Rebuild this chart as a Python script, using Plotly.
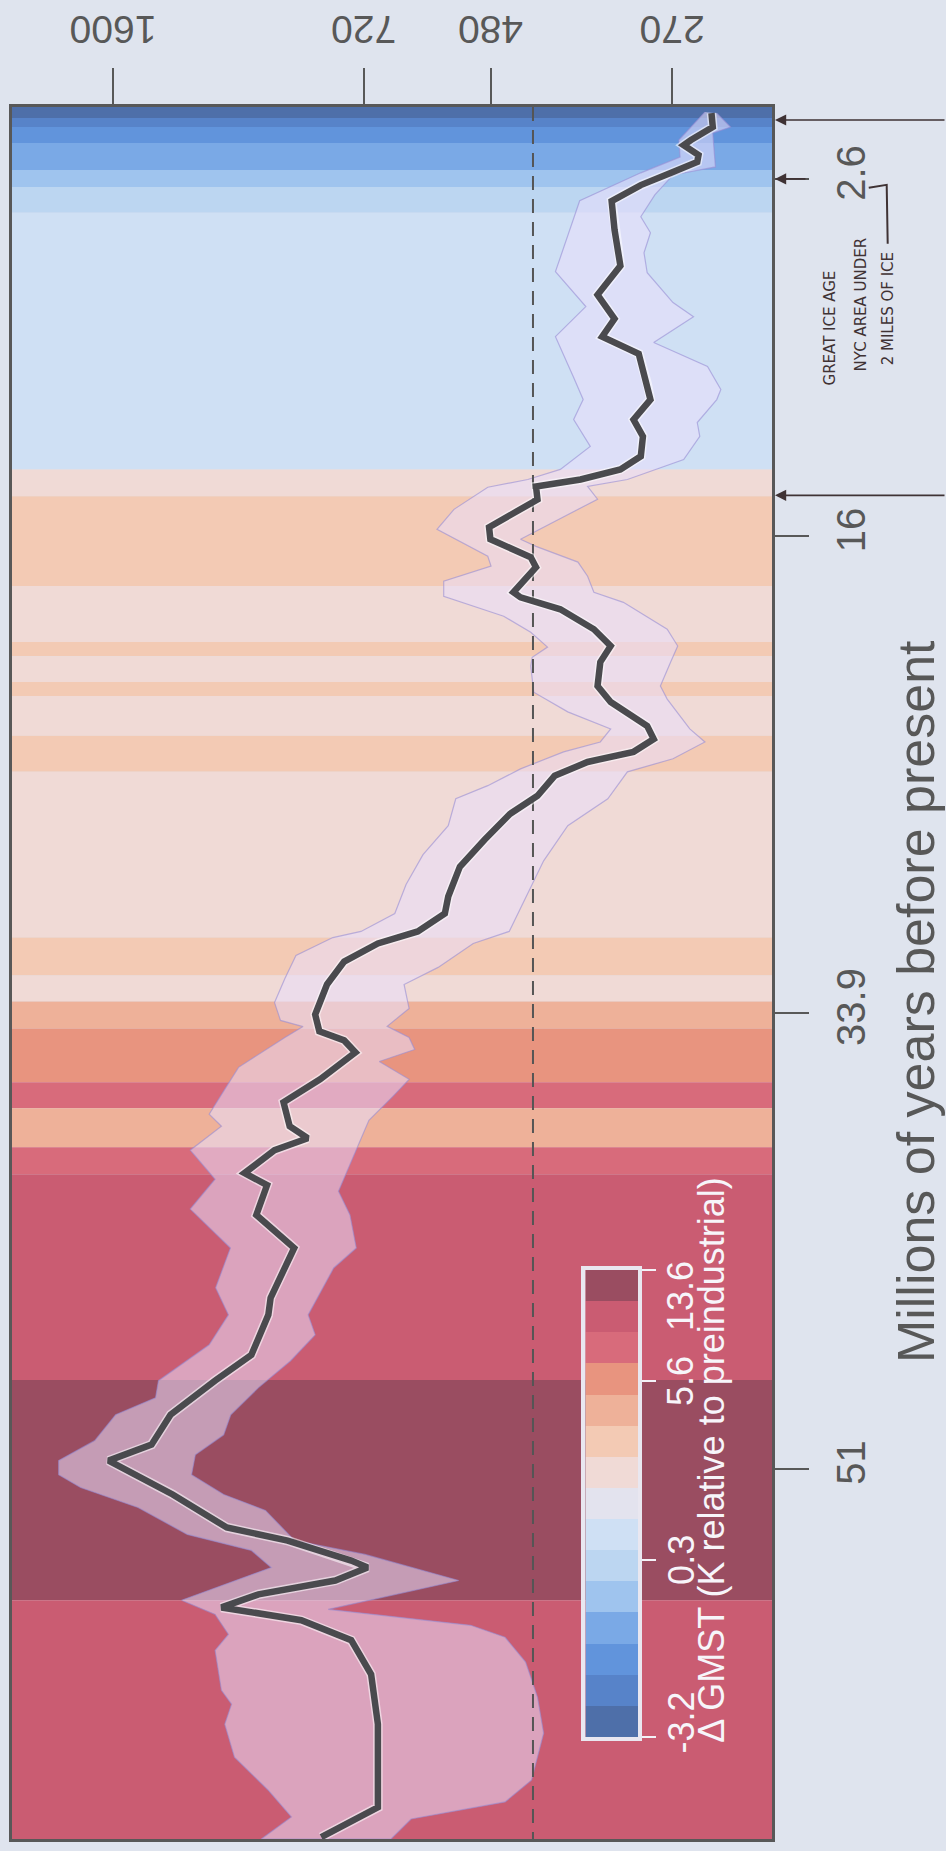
import math
import plotly.graph_objects as go

# ---------------------------------------------------------------- data
# Median CO2 reconstruction (age in Myr before present, CO2 in ppm)
median_age = [0.13, 0.65, 1.14, 1.33, 1.70, 1.96, 2.34, 2.83, 3.43, 4.51, 5.86, 6.95, 7.85,
              8.52, 9.16, 10.28, 10.88, 11.63, 12.26, 13.01, 13.50, 13.88, 14.14, 14.63,
              15.67, 16.12, 16.80, 17.17, 18.11, 18.30, 18.75, 19.50, 20.13, 20.73, 21.63,
              22.23, 23.13, 23.62, 24.10, 24.48, 25.00, 25.75, 26.43, 27.40, 28.41, 29.53,
              30.17, 30.84, 31.29, 31.97, 32.83, 33.96, 34.59, 34.93, 35.38, 36.39, 37.25,
              38.15, 38.60, 39.05, 39.91, 40.36, 41.48, 42.72, 44.59, 45.23, 46.73, 47.70,
              48.98, 50.10, 50.70, 51.97, 53.21, 53.70, 54.45, 54.71, 55.20, 55.72, 56.21,
              56.69, 57.44, 58.72, 60.59, 62.47, 63.71, 64.83]
median_co2 = [238, 237, 254, 260, 248, 249, 269, 298, 327, 324, 318, 342, 324,
              337, 300, 292, 289, 305, 296, 298, 318, 361, 416, 414,
              483, 481, 423, 416, 447, 437, 385, 346, 328, 339, 342,
              328, 292, 286, 305, 353, 392, 414, 452, 490, 530, 550,
              556, 606, 688, 766, 809, 840, 829, 766, 739, 827, 929,
              911, 860, 956, 1052, 979, 1013, 898, 968, 975, 1029, 1155,
              1331, 1414, 1621, 1322, 1113, 917, 749, 711, 788, 1006, 1132,
              878, 749, 703, 688, 688, 688, 824]

# Upper bound of the 95% interval (high CO2 side)
upper_age = [0.09, 1.14, 1.78, 2.37, 3.42, 4.73, 6.08, 7.39, 8.52, 10.05, 10.88, 11.63,
             12.64, 13.50, 13.88, 14.17, 15.00, 15.75, 16.76, 17.13, 17.70, 18.26, 19.01,
             19.61, 20.17, 20.55, 20.88, 21.86, 22.60, 23.24, 23.73, 24.10, 24.74, 25.37,
             25.86, 26.87, 27.96, 29.08, 30.17, 30.84, 31.07, 31.74, 32.61, 33.51, 34.18,
             34.41, 34.82, 35.94, 37.70, 38.15, 39.05, 40.14, 41.26, 42.72, 44.21, 45.23,
             46.35, 47.70, 48.34, 48.98, 49.95, 50.70, 51.23, 51.71, 52.46, 53.47, 54.07,
             54.71, 55.94, 56.47, 57.22, 57.82, 59.32, 59.84, 60.59, 61.83, 63.06, 64.07, 64.9]
upper_co2 = [243, 264, 263, 298, 362, 376, 391, 355, 391, 369, 358, 369,
             350, 385, 427, 485, 540, 570, 485, 480, 558, 558, 461,
             423, 401, 421, 423, 419, 376, 328, 339, 381, 437, 485,
             537, 550, 596, 629, 652, 726, 794, 893, 925, 956, 938,
             873, 925, 1072, 1177, 1132, 1250, 1155, 1250, 1100, 1153, 1107,
             1177, 1383, 1396, 1585, 1694, 1900, 1900, 1772, 1476, 1262, 1029,
             966, 1285, 1155, 1107, 1155, 1132, 1096, 1120, 1086, 976, 906, 997]

# Lower bound of the 95% interval (low CO2 side)
lower_age = [0.13, 0.65, 0.88, 2.15, 2.45, 3.20, 4.02, 4.62, 5.37, 6.12, 7.24, 7.77, 8.74,
             9.64, 10.50, 10.88, 11.74, 12.26, 13.13, 13.88, 14.14, 14.62, 16.12, 16.39,
             16.98, 17.51, 18.11, 18.49, 19.50, 20.13, 20.73, 21.63, 22.12, 23.24, 23.73,
             24.36, 24.85, 25.86, 26.87, 28.19, 29.09, 29.95, 30.84, 31.29, 32.19, 32.83,
             33.73, 34.40, 34.82, 35.27, 35.72, 36.39, 37.03, 37.93, 39.05, 40.59, 41.48,
             42.72, 43.47, 45.23, 45.98, 46.96, 47.96, 48.98, 49.73, 50.48, 51.23, 51.97,
             52.57, 53.70, 54.22, 55.20, 56.28, 56.88, 57.33, 58.26, 59.58, 60.93, 62.69,
             63.51, 64.15, 64.9]
lower_co2 = [234, 224, 237, 235, 269, 285, 298, 289, 295, 292, 269, 252, 286,
             241, 231, 234, 249, 247, 260, 311, 353, 342, 437, 416,
             364, 353, 346, 315, 274, 265, 271, 280, 274, 255, 243,
             269, 311, 331, 376, 406, 422, 437, 453, 508, 568, 633,
             623, 668, 623, 612, 685, 623, 656, 708, 737, 780, 752,
             737, 792, 859, 840, 909, 1006, 1099, 1124, 1230, 1245, 1124,
             984, 897, 717, 532, 806, 512, 459, 430, 414, 406, 422,
             459, 619, 660]

present_co2 = 420

# Warming stripes: band edges (Myr) and the GMST class of each band
stripe_edges = [-0.1, 0.31, 0.65, 1.25, 2.26, 2.90, 3.87, 13.50, 14.51, 17.88, 19.98,
                20.51, 21.48, 22.00, 23.50, 24.85, 31.07, 32.49, 33.47, 34.48, 36.50,
                37.48, 38.94, 39.95, 47.67, 55.94, 64.9]
stripe_class = [0, 1, 2, 3, 4, 5, 6, 8, 9, 8, 9, 8, 9, 8, 9, 8, 9, 8, 10, 11, 12,
                10, 12, 13, 14, 13]

co2_ticks = [270, 480, 720, 1600]
age_ticks = [2.6, 16, 33.9, 51]
age_tick_text = ["2.6", "16", "33.9", "51"]
gmst_tick_text = ["-3.2", "0.3", "5.6", "13.6"]
gmst_tick_pos = [-0.5, 5.2, 10.94, 14.5]     # tick marks along the discrete colour key
gmst_label_pos = [-0.02, 5.2, 10.94, 13.67]  # label centres (end labels kept inside)

# ---------------------------------------------------------------- style
palette = ["#4e6fa9", "#5783c9", "#6194dc", "#7aa9e6", "#9fc4ee", "#bcd6f1",
           "#cfe0f4", "#e3e3ee", "#f0dad6", "#f3cab4", "#eeb199", "#e8947f",
           "#d86b7b", "#ca5c72", "#9a4d61"]
GREY = "#585858"
KEY_INK = "#f7f5fa"
FONT = "Liberation Sans"
W, H = 946, 1851
L, R, T, B = 10, 772, 107, 1842


def px(x):
    return (x - L) / (R - L)


def py(y):
    return (B - y) / (B - T)


fig = go.Figure()

# warming stripes behind the data
for i, cls in enumerate(stripe_class):
    fig.add_shape(type="rect", xref="x domain", x0=0, x1=1, yref="y",
                  y0=stripe_edges[i], y1=stripe_edges[i + 1],
                  fillcolor=palette[cls], line_width=0, layer="below")

# 95% interval
fig.add_trace(go.Scatter(
    x=upper_co2 + lower_co2[::-1], y=upper_age + lower_age[::-1],
    mode="lines", fill="toself", fillcolor="rgba(234,222,252,0.55)",
    line=dict(color="rgba(150,140,212,0.6)", width=1.2), hoverinfo="skip",
    showlegend=False))

# present-day level
fig.add_trace(go.Scatter(
    x=[present_co2, present_co2], y=[stripe_edges[0], stripe_edges[-1]],
    mode="lines", line=dict(color="#555555", width=2, dash="14px,9px"),
    showlegend=False, hoverinfo="skip"))

# median curve with a light halo
fig.add_trace(go.Scatter(x=median_co2, y=median_age, mode="lines",
                         line=dict(color="rgba(255,255,255,0.55)", width=9.5),
                         showlegend=False, hoverinfo="skip"))
fig.add_trace(go.Scatter(x=median_co2, y=median_age, mode="lines",
                         line=dict(color="#4a4a4e", width=6.5),
                         showlegend=False, hoverinfo="skip"))

# colour key as a small heatmap on its own axes
n_cls = len(palette)
cscale = []
for i, c in enumerate(palette):
    cscale += [[i / n_cls, c], [(i + 1) / n_cls, c]]
fig.add_trace(go.Heatmap(z=[[i] for i in range(n_cls)], x=[0], y=list(range(n_cls)),
                         colorscale=cscale, zmin=-0.5, zmax=n_cls - 0.5,
                         showscale=False, xaxis="x2", yaxis="y2", hoverinfo="skip"))

KEY_TOP, KEY_BOT = 1272, 1740
fig.update_layout(
    width=W, height=H,
    margin=dict(l=L, r=W - R, t=T, b=H - B, pad=0),
    paper_bgcolor="#dfe4ee", plot_bgcolor="#dfe4ee",
    font=dict(family=FONT, color=GREY),
    showlegend=False,
    xaxis=dict(type="log", range=[3.3433, 2.2929], side="top",
               tickvals=co2_ticks, showticklabels=False,
               ticks="outside", ticklen=36, tickwidth=2, tickcolor=GREY,
               showline=True, linewidth=2.5, linecolor=GREY, mirror=True,
               showgrid=False, zeroline=False),
    yaxis=dict(range=[64.9, -0.1], side="right",
               tickvals=age_ticks, ticktext=age_tick_text,
               ticks="outside", ticklen=34, tickwidth=2, tickcolor=GREY,
               tickangle=-90, tickfont=dict(size=40, color=GREY, family=FONT),
               ticklabelstandoff=8,
               showline=True, linewidth=2.5, linecolor=GREY, mirror=True,
               showgrid=False, zeroline=False),
    xaxis2=dict(domain=[px(585), px(638)], anchor="y2", range=[-0.5, 0.5],
                showticklabels=False, ticks="", showgrid=False, zeroline=False,
                showline=True, linewidth=4, linecolor="#e9e7f0", mirror=True),
    yaxis2=dict(domain=[py(KEY_BOT), py(KEY_TOP)], anchor="x2", range=[-0.5, n_cls - 0.5],
                side="right", tickvals=gmst_tick_pos, showticklabels=False,
                ticks="outside", ticklen=14, tickwidth=2, tickcolor="#f4f2f8",
                showgrid=False, zeroline=False,
                showline=True, linewidth=4, linecolor="#e9e7f0", mirror=True),
)

# CO2 tick labels, printed upside down above the frame
for v in co2_ticks:
    fig.add_annotation(text=str(v), xref="x", yref="paper", x=math.log10(v), y=py(30),
                       showarrow=False, textangle=180, xanchor="center", yanchor="middle",
                       font=dict(size=39, color=GREY, family=FONT))

# colour-key labels and title
for pos, txt in zip(gmst_label_pos, gmst_tick_text):
    fig.add_annotation(text=txt, xref="paper", yref="y2", x=px(681), y=pos,
                       showarrow=False, textangle=-90, xanchor="center", yanchor="middle",
                       font=dict(size=36, color=KEY_INK, family=FONT))
fig.add_annotation(text="Δ GMST (K relative to preindustrial)", xref="paper", yref="paper",
                   x=px(711), y=py(1462), showarrow=False, textangle=-90,
                   xanchor="center", yanchor="middle",
                   font=dict(size=36, color=KEY_INK, family=FONT))

# time-axis title
fig.add_annotation(text="Millions of years before present", xref="paper", yref="paper",
                   x=px(917), y=py(1003), showarrow=False, textangle=-90,
                   xanchor="center", yanchor="middle",
                   font=dict(size=52, color=GREY, family=FONT))

# handwritten notes in the margin
INK = "#3f3234"
notes = [("GREAT ICE AGE", 830, 328), ("NYC AREA UNDER", 861, 305),
         ("2 MILES OF ICE", 888, 309)]
for txt, xx, yy in notes:
    fig.add_annotation(text=txt, xref="paper", yref="paper", x=px(xx), y=py(yy),
                       showarrow=False, textangle=-90, xanchor="center", yanchor="middle",
                       font=dict(family="DejaVu Sans", size=15, color=INK))

fig.add_shape(type="path", xref="paper", yref="paper",
              path=f"M {px(869)},{py(188)} L {px(887)},{py(185)} L {px(888)},{py(244)}",
              line=dict(color=INK, width=2))

for yy, tail in [(120, 180), (496, 180), (179, 32)]:
    fig.add_annotation(text="", xref="paper", yref="paper", x=px(775), y=py(yy),
                       ax=tail, ay=0, showarrow=True, arrowhead=2, arrowsize=1.4,
                       arrowwidth=1.6, arrowcolor=INK)

fig.write_html("out.html")
